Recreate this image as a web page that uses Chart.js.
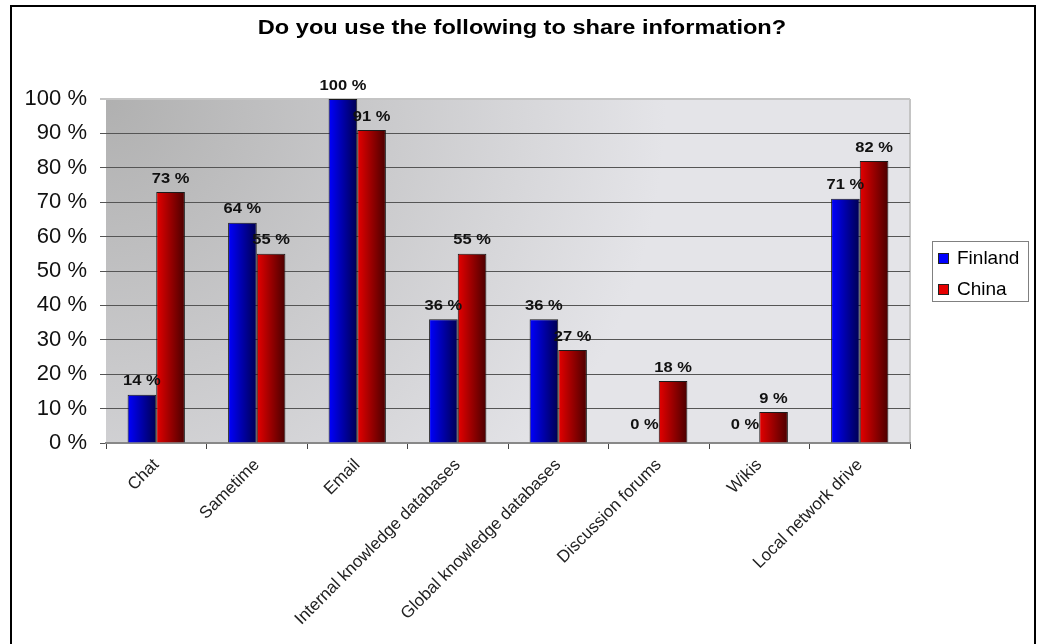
<!DOCTYPE html>
<html>
<head>
<meta charset="utf-8">
<script src="https://cdn.jsdelivr.net/npm/chart.js@4/dist/chart.umd.min.js"></script>
<style>
    body { margin: 0; background: #fff; }
    #frame { position: absolute; left: 10px; top: 5px; width: 1022px; height: 700px; border: 2px solid #000; border-bottom: none; }
    #chart { position: absolute; left: 0; top: 0; }
</style>
</head>
<body>
<div id="frame"></div>
<canvas id="chart" width="1043" height="644"></canvas>
<script>
/** DATA */

const titleText = 'Do you use the following to share information?';
const categories = ['Chat', 'Sametime', 'Email', 'Internal knowledge databases', 'Global knowledge databases', 'Discussion forums', 'Wikis', 'Local network drive'];
const seriesNames = ['Finland', 'China'];
const finland = [14, 64, 100, 36, 36, 0, 0, 71];
const china = [73, 55, 91, 55, 27, 18, 9, 82];
const yMax = 100;
const yStep = 10;

/** STYLE */

const catPct = 0.57;
const font = 'Arial, "Liberation Sans", sans-serif';
const fills = [['#0000ff', '#000050'], ['#e60000', '#4a0000']];

const barFill = (ctx) => {
    const [light, dark] = fills[ctx.datasetIndex];
    const chart = ctx.chart;
    const area = chart.chartArea;
    const xs = chart.scales.x;
    if (ctx.dataIndex === undefined || !area || !xs) return light;
    const w = (area.right - area.left) / categories.length * catPct / 2;
    const c = xs.getPixelForValue(ctx.dataIndex);
    const left = ctx.datasetIndex === 0 ? c - w : c;
    const g = chart.ctx.createLinearGradient(left, 0, left + w, 0);
    g.addColorStop(0, light);
    g.addColorStop(1, dark);
    return g;
};

// the source picture is a bit stretched sideways, so hand-drawn text gets a small x scale
const wideText = (ctx, text, x, y, sx) => {
    ctx.save();
    ctx.translate(x, y);
    ctx.scale(sx, 1);
    ctx.fillText(text, 0, 0);
    ctx.restore();
};

// plot background, value labels, title and legend box
const decorations = {
    id: 'decorations',
    beforeDraw: (chart) => {
        const { ctx, chartArea: a } = chart;
        const g = ctx.createRadialGradient(a.left, a.top, 0, a.left, a.top, 560);
        g.addColorStop(0, '#b0b0b0');
        g.addColorStop(1, '#e4e4e8');
        ctx.save();
        ctx.fillStyle = g;
        ctx.fillRect(a.left, a.top, a.right - a.left, a.bottom - a.top);
        ctx.strokeStyle = '#c4c4c4';
        ctx.lineWidth = 2;
        ctx.beginPath();
        ctx.moveTo(a.right, a.top);
        ctx.lineTo(a.right, a.bottom);
        ctx.stroke();
        ctx.restore();
    },
    afterDatasetsDraw: (chart) => {
        const ctx = chart.ctx;
        ctx.save();
        ctx.font = 'bold 15px ' + font;
        ctx.fillStyle = '#111';
        ctx.textAlign = 'center';
        ctx.textBaseline = 'bottom';
        chart.data.datasets.forEach((ds, i) => {
            chart.getDatasetMeta(i).data.forEach((bar, j) => {
                const gap = ds.data[j] === 0 ? 11 : 6;
                wideText(ctx, ds.data[j] + ' %', bar.x, bar.y - gap, 1.1);
            });
        });
        ctx.restore();
    },
    afterDraw: (chart) => {
        const ctx = chart.ctx;
        ctx.save();
        ctx.font = 'bold 20px ' + font;
        ctx.fillStyle = '#000';
        ctx.textAlign = 'center';
        ctx.textBaseline = 'alphabetic';
        wideText(ctx, titleText, 522, 34, 1.18);

        ctx.fillStyle = '#fff';
        ctx.fillRect(932, 241, 96, 60);
        ctx.strokeStyle = '#808080';
        ctx.lineWidth = 1;
        ctx.strokeRect(932.5, 241.5, 96, 60);
        ctx.font = '19px ' + font;
        ctx.textAlign = 'left';
        ctx.textBaseline = 'middle';
        seriesNames.forEach((name, i) => {
            const y = 258 + i * 31;
            ctx.fillStyle = fills[i][0];
            ctx.fillRect(938, y - 5, 11, 11);
            ctx.strokeStyle = '#222';
            ctx.strokeRect(938.5, y - 4.5, 10, 10);
            ctx.fillStyle = '#000';
            ctx.fillText(name, 957, y + 1);
        });
        ctx.restore();
    }
};

/** CHART */

new Chart(document.getElementById('chart'), {
    type: 'bar',
    data: {
        labels: categories,
        datasets: [
            { label: seriesNames[0], data: finland, backgroundColor: barFill, borderColor: '#1a1a1a', borderWidth: 1 },
            { label: seriesNames[1], data: china, backgroundColor: barFill, borderColor: '#1a1a1a', borderWidth: 1 }
        ]
    },
    options: {
        responsive: false,
        animation: false,
        barPercentage: 1,
        categoryPercentage: catPct,
        layout: { padding: { top: 99, right: 133, left: 0, bottom: 0 } },
        plugins: {
            legend: { display: false },
            title: { display: false },
            tooltip: { enabled: false }
        },
        scales: {
            y: {
                min: 0,
                max: yMax,
                afterFit: (scale) => { scale.width = 106; },
                ticks: {
                    stepSize: yStep,
                    padding: 13,
                    color: '#111',
                    font: { family: font, size: 22 },
                    callback: (v) => v + ' %'
                },
                grid: {
                    color: (c) => c.tick && c.tick.value === yMax ? '#c4c4c4' : '#555',
                    lineWidth: (c) => c.tick && c.tick.value === yMax ? 2 : 1,
                    tickLength: 6
                },
                border: { display: false }
            },
            x: {
                afterFit: (scale) => { scale.height = 201; },
                ticks: {
                    minRotation: 45,
                    maxRotation: 45,
                    padding: 6,
                    color: '#222',
                    font: { family: font, size: 17 }
                },
                grid: {
                    offset: true,
                    drawOnChartArea: false,
                    color: '#444',
                    tickLength: 6
                },
                border: { display: true, color: '#888', width: 2 }
            }
        }
    },
    plugins: [decorations]
});
</script>
</body>
</html>
